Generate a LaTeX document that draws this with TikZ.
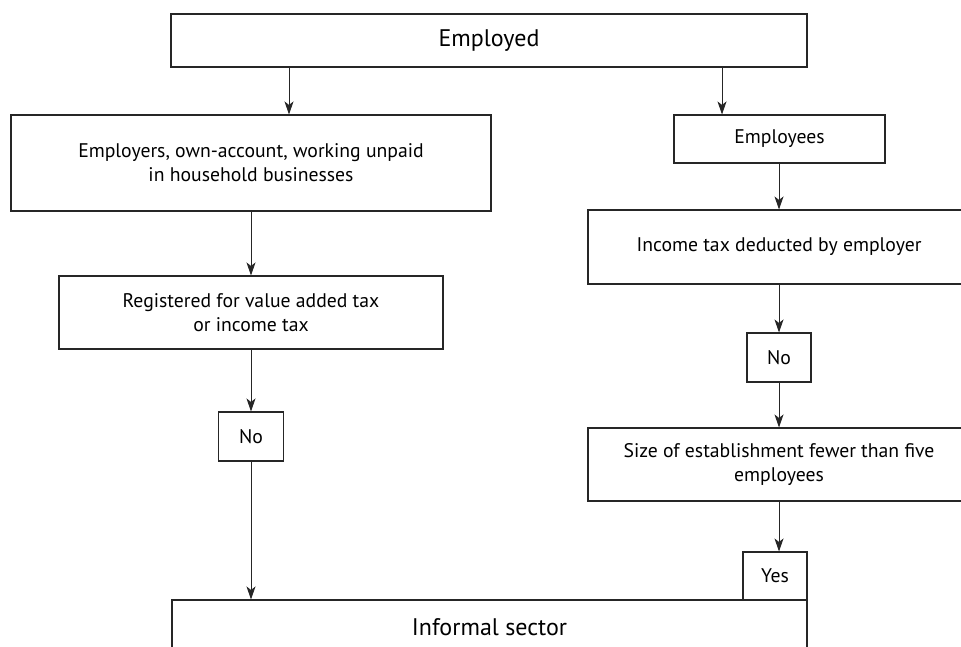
\documentclass[tikz,border=0pt]{standalone}
\usepackage{fontspec}
\setmainfont{PT Sans}
\usetikzlibrary{arrows.meta}
\begin{document}
\begin{tikzpicture}[x=1pt,y=-1pt,
  box/.style={draw=black!85, line width=1.1pt, rectangle, inner sep=0pt, align=center,
    font=\fontsize{19.7}{24}\selectfont},
  big/.style={font=\fontsize{24}{28}\selectfont},
  arr/.style={-{Stealth[length=13pt,width=9pt,inset=3.5pt]}, line width=0.9pt, draw=black!85}]
\useasboundingbox (0,0) rectangle (961,646);
\clip (0,0) rectangle (961,646);
\coordinate (xl) at (289,0);
\coordinate (xr) at (722,0);
% left column
\node[box,big,minimum width=636pt,minimum height=53pt] (emp) at (489,40.5) {Employed};
\node[box,minimum width=480pt,minimum height=96pt] (own) at (251,163)
  {Employers, own-account, working unpaid\\in household businesses};
\node[box,minimum width=384pt,minimum height=73pt] (reg) at (251,312.5)
  {Registered for value added tax\\or income tax};
\node[box,minimum width=65pt,minimum height=49pt] (no1) at (251,436.5) {No};
\node[box,big,minimum width=635pt,minimum height=54pt] (inf) at (489.5,627) {Informal sector};
% right column
\node[box,minimum width=211pt,minimum height=48pt] (ees) at (779.5,139) {Employees};
\node[box,minimum width=382pt,minimum height=74pt] (inc) at (779,247) {Income tax deducted by employer};
\node[box,minimum width=64pt,minimum height=49pt] (no2) at (779,357.5) {No};
\node[box,minimum width=382pt,minimum height=73pt] (size) at (779,464.5)
  {Size of establishment fewer than five\\employees};
\node[box,minimum width=64pt,minimum height=48pt] (yes) at (775,576) {Yes};
% connectors
\draw[arr] (emp.south -| xl) -- (own.north -| xl);
\draw[arr] (emp.south -| xr) -- (ees.north -| xr);
\draw[arr] (own.south) -- (reg.north);
\draw[arr] (reg.south) -- (no1.north);
\draw[arr] (no1.south) -- (no1.south |- inf.north);
\draw[arr] (ees.south -| inc.north) -- (inc.north);
\draw[arr] (inc.south) -- (no2.north);
\draw[arr] (no2.south) -- (size.north);
\draw[arr] (size.south) -- (size.south |- yes.north);
\end{tikzpicture}
\end{document}
